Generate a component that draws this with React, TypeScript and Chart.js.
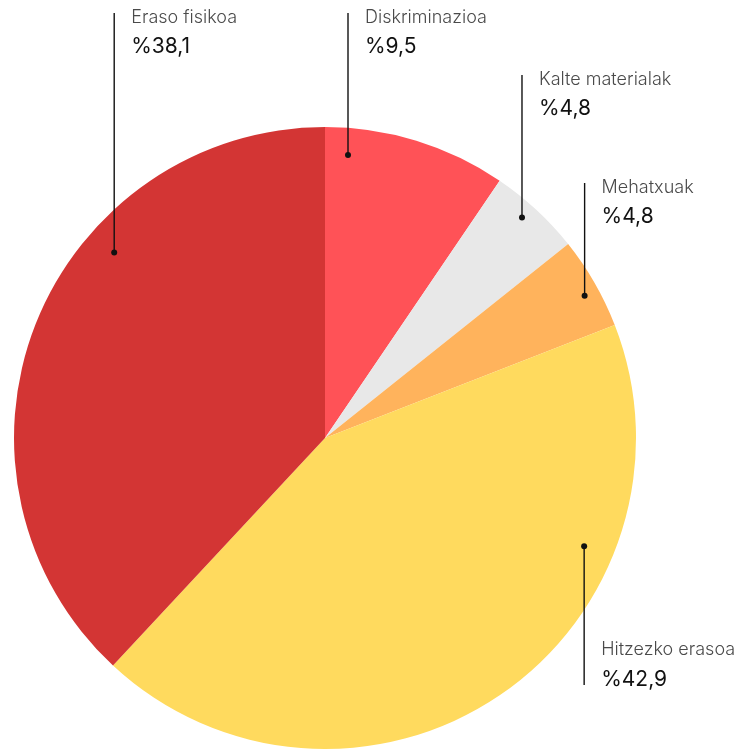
import React, { useEffect, useRef } from "react";
import { Chart, registerables } from "chart.js";

Chart.register(...registerables);

const categories = ["Diskriminazioa", "Kalte materialak", "Mehatxuak", "Hitzezko erasoa", "Eraso fisikoa"];
const values = [9.5, 4.8, 4.8, 42.9, 38.1];
const colors = ["#FF5257", "#E8E8E8", "#FFB35C", "#FFDA5E", "#D33534"];

// leader-line annotation styling: where in the slice the dot sits, and where the line ends
const anchorFraction = [0.136, 0.44, 0.57, 0.285, 0.645];
const anchorRadius = [0.913, 0.951, 0.952, 0.903, 0.903];
const lineEndY = [13, 75, 183, 685, 13];
const labelBelow = [false, false, false, true, false];

const fmt = (v: number) => "%" + v.toFixed(1).replace(".", ",");

const leaderPlugin = {
  id: "leaders",
  afterDraw(chart: any) {
    const ctx = chart.ctx;
    const meta = chart.getDatasetMeta(0);
    meta.data.forEach((arc: any, i: number) => {
      const { x, y, startAngle, endAngle, outerRadius } = arc.getProps(
        ["x", "y", "startAngle", "endAngle", "outerRadius"],
        true
      );
      const a = startAngle + (endAngle - startAngle) * anchorFraction[i];
      const r = outerRadius * anchorRadius[i];
      const px = x + Math.cos(a) * r;
      const py = y + Math.sin(a) * r;
      const ey = lineEndY[i];
      ctx.save();
      ctx.strokeStyle = "#111";
      ctx.lineWidth = 1.4;
      ctx.beginPath();
      ctx.moveTo(px, py);
      ctx.lineTo(px, ey);
      ctx.stroke();
      ctx.fillStyle = "#111";
      ctx.beginPath();
      ctx.arc(px, py, 3, 0, Math.PI * 2);
      ctx.fill();
      const tx = px + 17;
      const nameY = labelBelow[i] ? ey - 35 : ey + 5;
      const valY = labelBelow[i] ? ey - 5 : ey + 34;
      ctx.textAlign = "left";
      ctx.textBaseline = "middle";
      ctx.fillStyle = "#4a4a4a";
      ctx.font = "300 18px Inter, 'Open Sans', sans-serif";
      ctx.fillText(categories[i], tx, nameY);
      ctx.fillStyle = "#111";
      ctx.font = "400 21px Inter, 'Open Sans', sans-serif";
      ctx.fillText(fmt(values[i]), tx, valY);
      ctx.restore();
    });
  },
};

export default function App() {
  const ref = useRef<HTMLCanvasElement | null>(null);
  useEffect(() => {
    if (!ref.current) return;
    const chart = new Chart(ref.current, {
      type: "pie",
      data: {
        labels: categories,
        datasets: [
          {
            data: values,
            backgroundColor: colors,
            borderWidth: 0,
          },
        ],
      },
      options: {
        animation: false,
        responsive: true,
        maintainAspectRatio: false,
        layout: { padding: { left: 14, right: 114, top: 127, bottom: 2 } },
        plugins: {
          legend: { display: false },
          tooltip: { enabled: false },
        },
      },
      plugins: [leaderPlugin],
    });
    return () => chart.destroy();
  }, []);
  return (
    <div style={{ position: "absolute", left: 0, top: 0, width: 750, height: 751, background: "#fff" }}>
      <canvas ref={ref} />
    </div>
  );
}
